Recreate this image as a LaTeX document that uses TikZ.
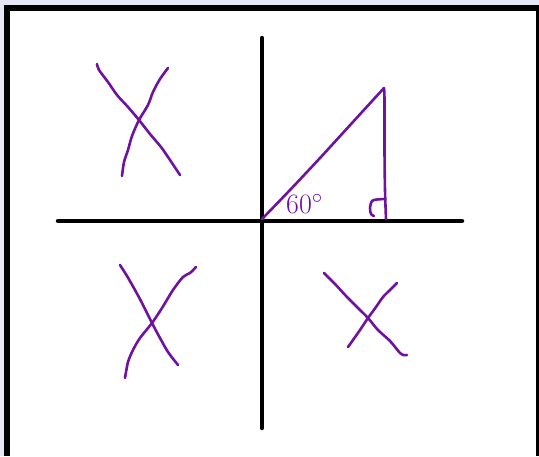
\documentclass[tikz,border=0pt]{standalone}
\definecolor{penpurple}{RGB}{112,18,160}
\definecolor{lav}{RGB}{230,230,246}
\begin{document}
\begin{tikzpicture}[x=1pt,y=-1pt,
  axis/.style={line width=4.5pt,line cap=round,black},
  pen/.style={line width=2.6pt,line cap=round,line join=round,draw=penpurple}]
\useasboundingbox (0,0) rectangle (539,456);
\fill[lav] (0,0) rectangle (539,456);
\fill[black] (3.5,5) rectangle (539,456);
\fill[white] (9.5,11) rectangle (536,456);
% axes
\coordinate (O) at (262,221);
\coordinate (yt) at (262,38);
\coordinate (yb) at (262,428);
\coordinate (xl) at (58,221);
\coordinate (xr) at (462,221);
\draw[axis] (yt) -- (yb);
\draw[axis] (xl) -- (xr);
% triangle
\coordinate (T0) at (262,219);
\coordinate (A) at (384,88);
\coordinate (B) at (386,219);
\draw[pen] plot[smooth] coordinates {(T0) (290,190) (320,158) (352,123) (384,88)};
\draw[pen] plot[smooth] coordinates {(A) (384.5,100) (384.5,150) (385,190) (B)};
% right angle mark
\draw[pen] plot[smooth] coordinates {(385,199) (377,199.5) (372,201) (370,208) (371,214) (374,216)};
% angle label
\node[text=penpurple,font=\fontsize{28}{30}\selectfont,inner sep=0pt,anchor=base west] (lbl) at (286,213) {60$^{\circ}$};
% X top-left
\draw[pen] plot[smooth] coordinates {(97,64) (99,70) (108,82) (117,95) (128,107) (139,120) (150,134) (161,147) (170,160) (180,175)};
\draw[pen] plot[smooth] coordinates {(168,68) (160,79) (153,92) (148,105) (139,120) (132,136) (128,150) (124,162) (122,176)};
% X bottom-left
\draw[pen] plot[smooth] coordinates {(120,265) (127,276) (135,290) (142,303) (152,323) (160,338) (168,352) (178,365)};
\draw[pen] plot[smooth] coordinates {(196,267) (190,273) (183,277) (173,290) (162,308) (152,323) (140,338) (133,350) (128,362) (125,378)};
% X bottom-right
\draw[pen] plot[smooth] coordinates {(324,273) (335,284) (347,297) (358,308) (368,318) (378,330) (390,341) (400,353) (403,355) (407,355)};
\draw[pen] plot[smooth] coordinates {(397,283) (390,290) (383,297) (376,307) (368,318) (360,330) (353,340) (348,347)};
\end{tikzpicture}
\end{document}
